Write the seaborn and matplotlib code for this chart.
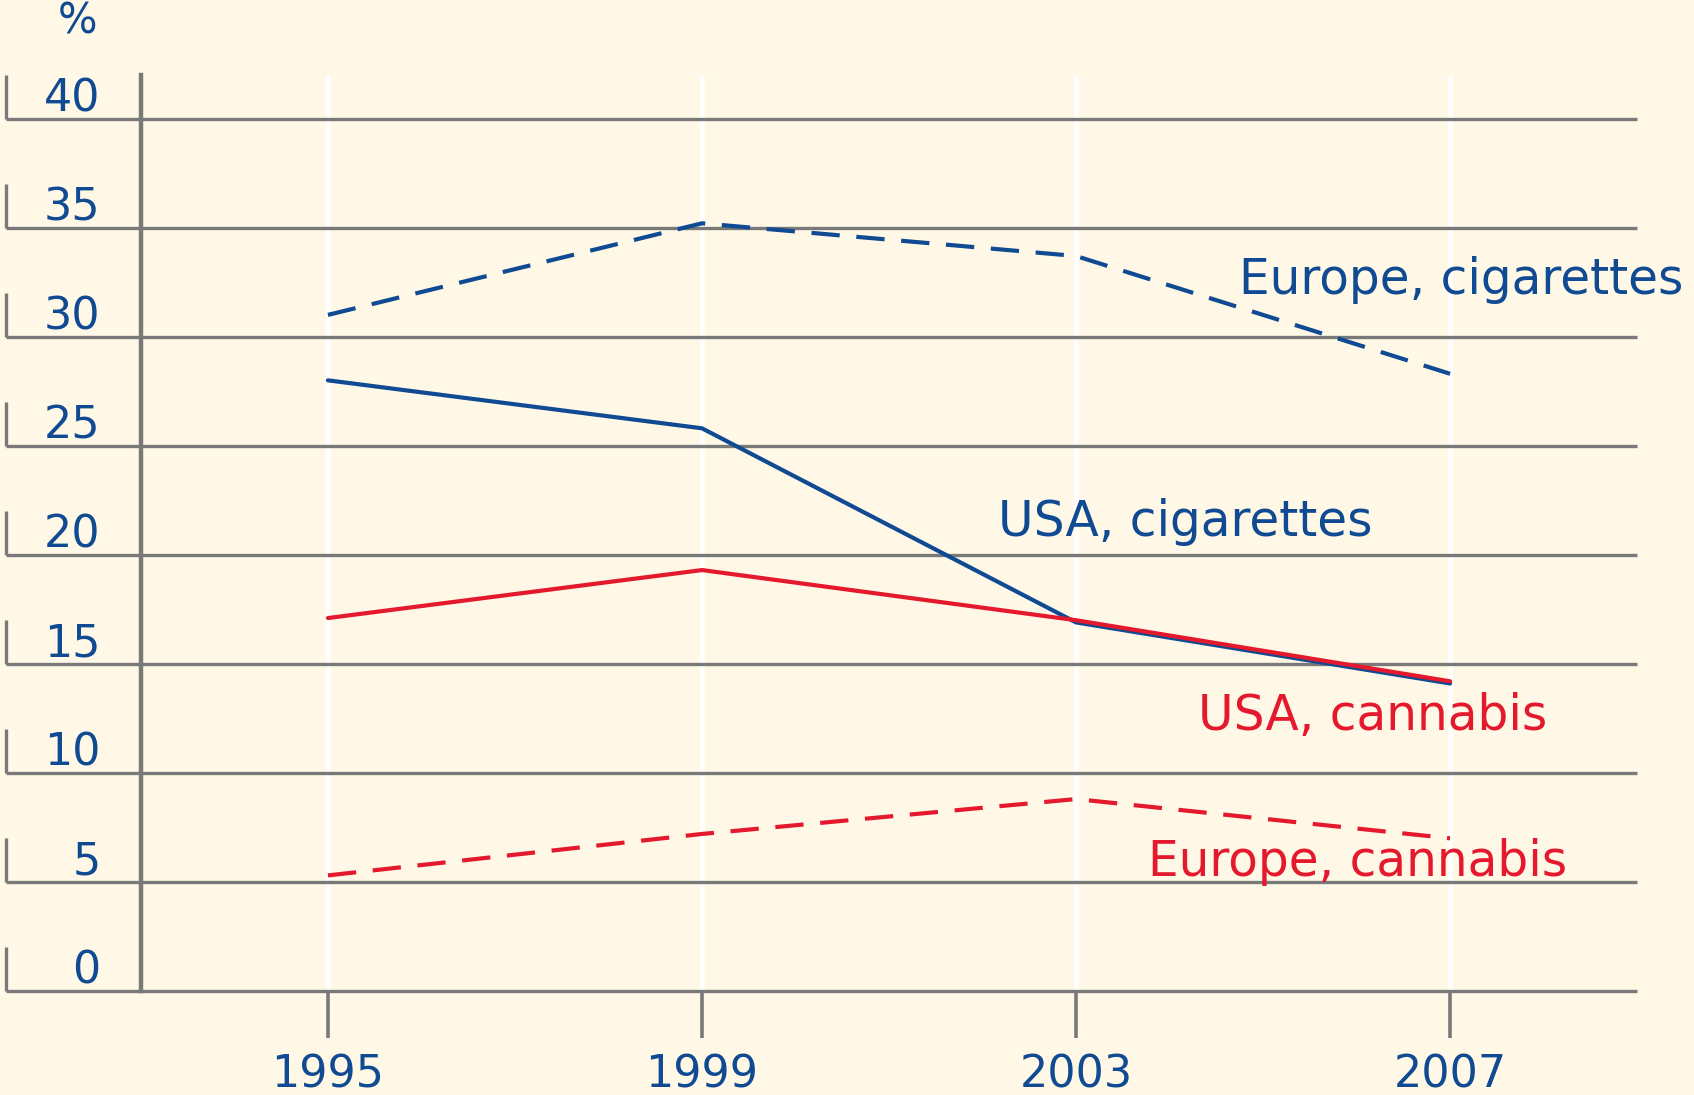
import numpy as np
import pandas as pd
import matplotlib
matplotlib.use("Agg")
import matplotlib.pyplot as plt
import matplotlib.transforms as mtransforms
import seaborn as sns

# ============================================================
# Data
# ============================================================

years = [1995, 1999, 2003, 2007]
europe_cigarettes = [31.0, 35.2, 33.7, 28.3]
usa_cigarettes = [28.0, 25.8, 16.9, 14.1]
usa_cannabis = [17.1, 19.3, 17.0, 14.2]
europe_cannabis = [5.3, 7.2, 8.8, 7.0]

series_names = ["Europe, cigarettes", "USA, cigarettes", "USA, cannabis", "Europe, cannabis"]
y_ticks = [0, 5, 10, 15, 20, 25, 30, 35, 40]

# ============================================================
# Style
# ============================================================

BG = "#fff8e6"
BLUE = "#0f4a92"
RED = "#e5192e"
GRAY = "#797979"

sns.set_theme(style="white")
plt.rcParams["font.family"] = ["DejaVu Sans"]

df = pd.DataFrame({
    "year": years * 4,
    "value": europe_cigarettes + usa_cigarettes + usa_cannabis + europe_cannabis,
    "series": np.repeat(series_names, len(years)),
})

palette = {
    "Europe, cigarettes": BLUE,
    "USA, cigarettes": BLUE,
    "USA, cannabis": RED,
    "Europe, cannabis": RED,
}
dashes = {
    "Europe, cigarettes": (6.8, 4.0),
    "USA, cigarettes": "",
    "USA, cannabis": "",
    "Europe, cannabis": (6.8, 4.0),
}

fig = plt.figure(figsize=(16.94, 10.95), dpi=100, facecolor=BG)
ax = fig.add_axes([0.0832, 0.0950, 0.8832, 0.8365])
ax.set_facecolor(BG)

ax.set_xlim(1993, 2009)
ax.set_ylim(0, 42)

# white vertical grid lines at the years
ax.vlines(years, 0, 42, colors="white", linewidth=3.5, zorder=1)

# gray horizontal grid lines, extended left of the axis with small brackets
x_left = 1993 - (141 - 6) / 93.42
ax.hlines(y_ticks, x_left, 2009, colors=GRAY, linewidth=2.4, zorder=2, clip_on=False)
ax.vlines([x_left] * len(y_ticks), y_ticks, [v + 2.0 for v in y_ticks],
          colors=GRAY, linewidth=2.4, zorder=2, clip_on=False)

sns.lineplot(data=df, x="year", y="value", hue="series", style="series",
             palette=palette, dashes=dashes, linewidth=3.0, legend=False,
             ax=ax, zorder=3)

# axes styling
for side in ["top", "right", "bottom"]:
    ax.spines[side].set_visible(False)
ax.spines["left"].set_color(GRAY)
ax.spines["left"].set_linewidth(3.2)
ax.spines["left"].set_zorder(2)

ax.set_xticks(years)
ax.set_xticklabels([str(y) for y in years])
ax.tick_params(axis="x", direction="out", length=34, width=2.6, color=GRAY,
               pad=11, labelsize=32, labelcolor=BLUE, bottom=True)

ax.set_yticks(y_ticks)
ax.set_yticklabels([str(v) for v in y_ticks])
ax.tick_params(axis="y", length=0, pad=29, labelsize=32, labelcolor=BLUE)
offset = mtransforms.ScaledTranslation(0, 0.24, fig.dpi_scale_trans)
for lab in ax.get_yticklabels():
    lab.set_transform(lab.get_transform() + offset)

ax.set_xlabel("")
ax.set_ylabel("")

# series labels
ax.text(2004.74, 32.6, "Europe, cigarettes", color=BLUE, fontsize=35,
        ha="left", va="center", clip_on=False)
ax.text(2002.17, 21.5, "USA, cigarettes", color=BLUE, fontsize=35,
        ha="left", va="center")
ax.text(2004.3, 12.6, "USA, cannabis", color=RED, fontsize=35,
        ha="left", va="center")
ax.text(2003.77, 5.9, "Europe, cannabis", color=RED, fontsize=35,
        ha="left", va="center")

fig.text(77 / 1694, 1 - 21 / 1095, "%", color=BLUE, fontsize=30,
         ha="center", va="center")

fig.savefig("out.png", dpi=100, facecolor=BG)
